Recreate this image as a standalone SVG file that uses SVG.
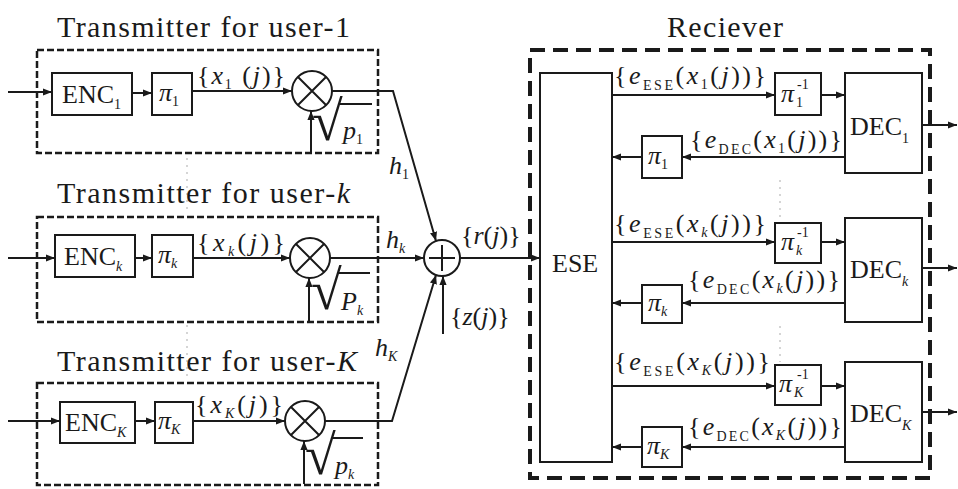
<svg xmlns="http://www.w3.org/2000/svg" width="958" height="489" viewBox="0 0 958 489">
<style>
text{font-family:"Liberation Serif","Times New Roman",serif;fill:#1a1a1a}
.title{font-size:30px}
.blk{font-size:26px}
.lab{font-size:26px}
.it{font-style:italic}
.sub{font-size:14px;font-style:normal}
.subi{font-size:14px;font-style:italic}
.box{fill:#fff;stroke:#1a1a1a;stroke-width:2}
.ln{fill:none;stroke:#1a1a1a;stroke-width:2}
.tx{fill:none;stroke:#1a1a1a;stroke-width:2.5;stroke-dasharray:7 3}
.rx{fill:none;stroke:#1a1a1a;stroke-width:4;stroke-dasharray:15 8}
.dot{fill:none;stroke:#c8c8c8;stroke-width:1.5;stroke-dasharray:2 5}
.rad{font-size:56px}
</style>
<defs>
<marker id="ah" viewBox="0 0 10 10" refX="10" refY="5" markerWidth="9" markerHeight="9" markerUnits="userSpaceOnUse" orient="auto"><path d="M0,1 L10,5 L0,9 z" fill="#1a1a1a"/></marker>
</defs>

<!-- faint dotted continuation marks -->
<g id="dots">
<line class="dot" x1="187" y1="158" x2="187" y2="212"/>
<line class="dot" x1="187" y1="325" x2="187" y2="378"/>
<line class="dot" x1="780" y1="180" x2="780" y2="218"/>
<line class="dot" x1="780" y1="326" x2="780" y2="362"/>
</g>

<!-- Transmitter 1 -->
<g id="tx1">
<text class="title" x="57" y="37" textLength="293" lengthAdjust="spacing">Transmitter for user-1</text>
<rect class="tx" x="37" y="50" width="341" height="103"/>
<g id="enc1"><rect class="box" x="52" y="73" width="80" height="42"/><text class="blk" x="62" y="103">ENC<tspan class="sub" dy="6">1</tspan></text></g>
<g id="pi_t1"><rect class="box" x="152" y="73" width="40" height="42"/><text class="blk it" x="159" y="101">π<tspan class="sub" dy="5">1</tspan></text></g>
<g id="mul1"><circle class="box" cx="312" cy="91" r="20"/><path class="ln" d="M298,77 L326,105 M326,77 L298,105"/></g>
<text class="lab" x="197" y="84" textLength="88" lengthAdjust="spacing">{<tspan class="it">x</tspan><tspan class="sub" dy="5">1</tspan><tspan dy="-5"> (</tspan><tspan class="it">j</tspan>)}</text>
<g id="sqrt1"><text class="rad" x="312" y="140">√</text><line class="ln" x1="339" y1="104" x2="372" y2="104"/><text class="lab it" x="343" y="139">p<tspan class="sub" dy="5">1</tspan></text></g>
</g>

<!-- Transmitter k -->
<g id="txk" transform="translate(0,167)">
<text class="title" x="57" y="36" textLength="293" lengthAdjust="spacing">Transmitter for user-<tspan class="it">k</tspan></text>
<rect class="tx" x="37" y="50" width="341" height="105"/>
<g id="enck"><rect class="box" x="55" y="68" width="80" height="42"/><text class="blk" x="64" y="98">ENC<tspan class="subi" dy="6">k</tspan></text></g>
<g id="pi_tk"><rect class="box" x="152" y="68" width="41" height="42" stroke="#777"/><text class="blk it" x="158" y="96" fill="#555">π<tspan class="subi" dy="5">k</tspan></text></g>
<g id="mulk"><circle class="box" cx="310" cy="91" r="20"/><path class="ln" d="M296,77 L324,105 M324,77 L296,105"/></g>
<text class="lab" x="197" y="84" textLength="88" lengthAdjust="spacing">{<tspan class="it">x</tspan><tspan class="subi" dy="5">k</tspan><tspan dy="-5">(</tspan><tspan class="it">j</tspan>)}</text>
<g id="sqrtk"><text class="rad" x="311" y="142">√</text><line class="ln" x1="338" y1="106" x2="370" y2="106"/><text class="lab it" x="341" y="143">P<tspan class="subi" dy="5">k</tspan></text></g>
</g>

<!-- Transmitter K -->
<g id="txK" transform="translate(0,333)">
<text class="title" x="57" y="38" textLength="300" lengthAdjust="spacing">Transmitter for user-<tspan class="it">K</tspan></text>
<rect class="tx" x="37" y="50" width="341" height="102"/>
<g id="encK"><rect class="box" x="60" y="69" width="75" height="41"/><text class="blk" x="65" y="98">ENC<tspan class="subi" dy="6">K</tspan></text></g>
<g id="pi_tK"><rect class="box" x="155" y="69" width="38" height="41"/><text class="blk it" x="158" y="96">π<tspan class="subi" dy="5">K</tspan></text></g>
<g id="mulK"><circle class="box" cx="305" cy="88" r="20"/><path class="ln" d="M291,74 L319,102 M319,74 L291,102"/></g>
<text class="lab" x="195" y="80" textLength="88" lengthAdjust="spacing">{<tspan class="it">x</tspan><tspan class="subi" dy="5">K</tspan><tspan dy="-5">(</tspan><tspan class="it">j</tspan>)}</text>
<g id="sqrtK"><text class="rad" x="305" y="141">√</text><line class="ln" x1="332" y1="105" x2="363" y2="105"/><text class="lab it" x="335" y="141">p<tspan class="subi" dy="5">k</tspan></text></g>
</g>

<!-- Adder -->
<g id="adder">
<circle class="box" cx="442" cy="258" r="18"/>
<path class="ln" d="M442,245 L442,271 M429,258 L455,258"/>
</g>

<!-- Channel labels -->
<g id="chlabels">
<text class="lab it" x="389" y="174">h<tspan class="sub" dy="5">1</tspan></text>
<text class="lab it" x="386" y="248">h<tspan class="subi" dy="5">k</tspan></text>
<text class="lab it" x="375" y="356">h<tspan class="subi" dy="5">K</tspan></text>
<text class="lab" x="461" y="244">{<tspan class="it">r</tspan>(<tspan class="it">j</tspan>)}</text>
<text class="lab" x="450" y="325">{<tspan class="it">z</tspan>(<tspan class="it">j</tspan>)}</text>
</g>

<!-- Receiver -->
<g id="receiver">
<text class="title" x="667" y="37" textLength="116" lengthAdjust="spacing">Reciever</text>
<rect class="rx" x="530" y="50" width="400" height="428"/>
</g>
<g id="ese"><rect class="box" x="540" y="73" width="72" height="389"/><text class="blk" x="552" y="272">ESE</text></g>

<g id="pinv1"><rect class="box" x="775" y="73" width="46" height="42"/><text class="blk it" x="781" y="102">π</text><text class="sub" x="796" y="107">1</text><text class="sub" x="797" y="89">-1</text></g>
<g id="dec1"><rect class="box" x="845" y="73" width="77" height="100"/><text class="blk" x="850" y="135">DEC<tspan class="sub" dy="8">1</tspan></text></g>
<g id="pir1"><rect class="box" x="642" y="136" width="40" height="42"/><text class="blk it" x="648" y="164">π<tspan class="sub" dy="5">1</tspan></text></g>

<g id="pinvk"><rect class="box" x="775" y="223" width="46" height="40" stroke="#777"/><text class="blk it" x="781" y="250">π</text><text class="subi" x="796" y="255">k</text><text class="sub" x="797" y="237">-1</text></g>
<g id="deck"><rect class="box" x="845" y="218" width="77" height="104"/><text class="blk" x="850" y="278">DEC<tspan class="subi" dy="8">k</tspan></text></g>
<g id="pirk"><rect class="box" x="642" y="285" width="40" height="38"/><text class="blk it" x="648" y="311">π<tspan class="subi" dy="5">k</tspan></text></g>

<g id="pinvK"><rect class="box" x="775" y="365" width="46" height="40"/><text class="blk it" x="779" y="392">π</text><text class="subi" x="794" y="397">K</text><text class="sub" x="797" y="379">-1</text></g>
<g id="decK"><rect class="box" x="845" y="362" width="77" height="100"/><text class="blk" x="850" y="422">DEC<tspan class="subi" dy="8">K</tspan></text></g>
<g id="pirK"><rect class="box" x="642" y="427" width="40" height="40"/><text class="blk it" x="647" y="454">π<tspan class="subi" dy="5">K</tspan></text></g>

<!-- Receiver labels -->
<g id="rxlabels">
<text class="lab" x="614" y="84" textLength="152" lengthAdjust="spacing">{<tspan class="it">e</tspan><tspan class="sub" dy="6">ESE</tspan><tspan dy="-6">(</tspan><tspan class="it">x</tspan><tspan class="sub" dy="5">1</tspan><tspan dy="-5">(</tspan><tspan class="it">j</tspan>))}</text>
<text class="lab" x="690" y="148" textLength="152" lengthAdjust="spacing">{<tspan class="it">e</tspan><tspan class="sub" dy="6">DEC</tspan><tspan dy="-6">(</tspan><tspan class="it">x</tspan><tspan class="sub" dy="5">1</tspan><tspan dy="-5">(</tspan><tspan class="it">j</tspan>))}</text>
<text class="lab" x="614" y="232" textLength="152" lengthAdjust="spacing">{<tspan class="it">e</tspan><tspan class="sub" dy="6">ESE</tspan><tspan dy="-6">(</tspan><tspan class="it">x</tspan><tspan class="subi" dy="5">k</tspan><tspan dy="-5">(</tspan><tspan class="it">j</tspan>))}</text>
<text class="lab" x="688" y="288" textLength="152" lengthAdjust="spacing">{<tspan class="it">e</tspan><tspan class="sub" dy="6">DEC</tspan><tspan dy="-6">(</tspan><tspan class="it">x</tspan><tspan class="subi" dy="5">k</tspan><tspan dy="-5">(</tspan><tspan class="it">j</tspan>))}</text>
<text class="lab" x="614" y="370" textLength="156" lengthAdjust="spacing">{<tspan class="it">e</tspan><tspan class="sub" dy="6">ESE</tspan><tspan dy="-6">(</tspan><tspan class="it">x</tspan><tspan class="subi" dy="5">K</tspan><tspan dy="-5">(</tspan><tspan class="it">j</tspan>))}</text>
<text class="lab" x="688" y="435" textLength="154" lengthAdjust="spacing">{<tspan class="it">e</tspan><tspan class="sub" dy="6">DEC</tspan><tspan dy="-6">(</tspan><tspan class="it">x</tspan><tspan class="subi" dy="5">K</tspan><tspan dy="-5">(</tspan><tspan class="it">j</tspan>))}</text>
</g>

<!-- Connectors -->
<g id="connectors" class="ln" marker-end="url(#ah)">
<!-- tx 1 -->
<path d="M8,92 H52"/>
<path d="M132,93 H152"/>
<path d="M192,91 H292"/>
<path d="M311,153 V111"/>
<path d="M332,91 H393 L436,241"/>
<!-- tx k -->
<path d="M8,258 H55"/>
<path d="M135,258 H152"/>
<path d="M193,258 H290"/>
<path d="M309,322 V278"/>
<path d="M330,258 H424"/>
<!-- tx K -->
<path d="M8,421 H60"/>
<path d="M135,421 H155"/>
<path d="M193,421 H285"/>
<path d="M304,484 V441"/>
<path d="M325,421 H392 L436,275"/>
<!-- noise and sum -->
<path d="M443,334 V276"/>
<path d="M460,258 H540"/>
<!-- receiver row 1 -->
<path d="M612,95 H775"/>
<path d="M821,95 H845"/>
<path d="M845,157 H682"/>
<path d="M642,157 H612"/>
<path d="M922,125 H957"/>
<!-- receiver row k -->
<path d="M612,242 H775"/>
<path d="M821,242 H845"/>
<path d="M845,303 H682"/>
<path d="M642,303 H612"/>
<path d="M922,268 H957"/>
<!-- receiver row K -->
<path d="M612,386 H775"/>
<path d="M821,386 H845"/>
<path d="M845,447 H682"/>
<path d="M642,447 H612"/>
<path d="M922,412 H957"/>
</g>
</svg>
